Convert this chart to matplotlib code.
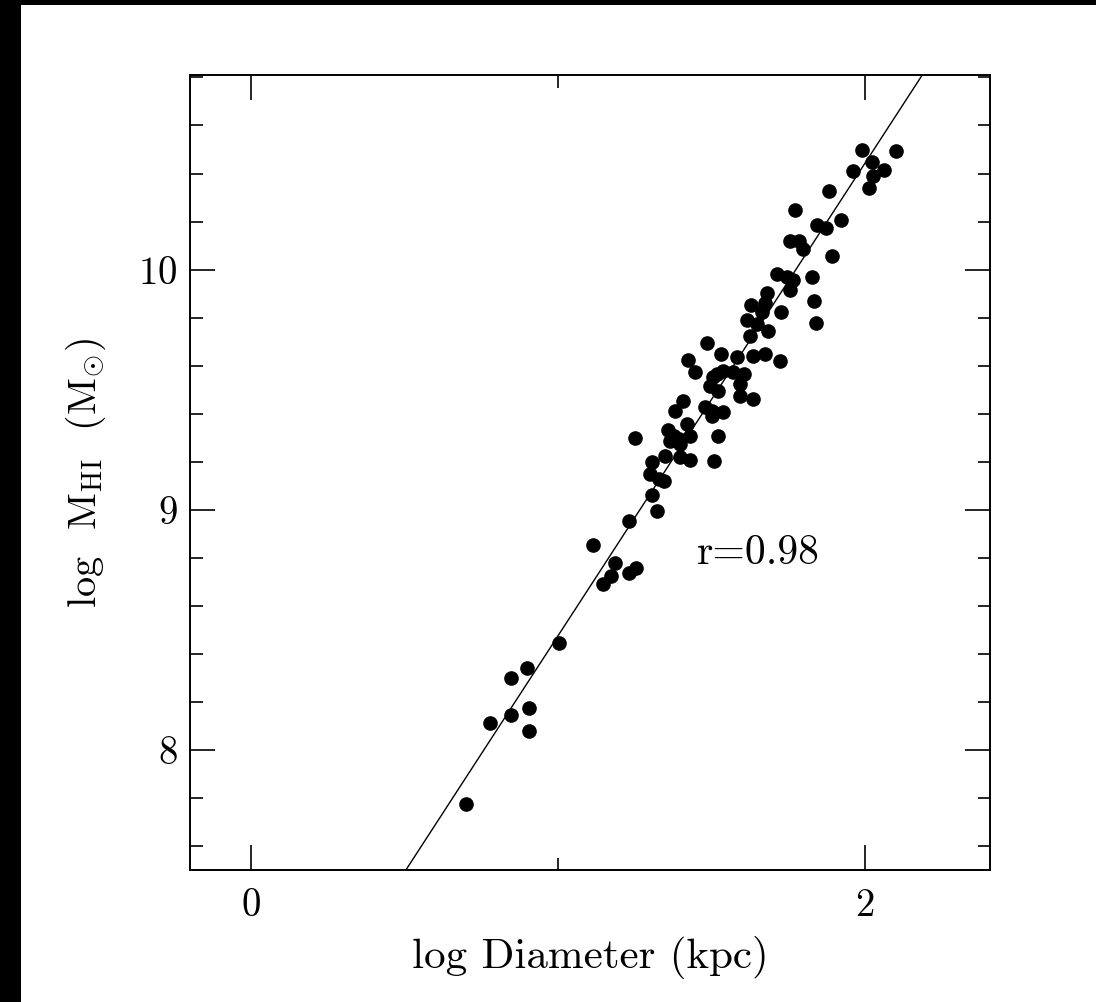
#!/usr/bin/env python3
"""HI mass vs HI diameter scatter with fitted relation."""

import matplotlib
matplotlib.use("Agg")
import matplotlib.pyplot as plt
from matplotlib.patches import Rectangle
from matplotlib.ticker import MultipleLocator
import numpy as np

# log D_HI (kpc) and log M_HI (Msun)
log_diam = [
    0.700, 0.779, 0.846, 0.846, 0.898, 0.906, 0.903, 1.001, 1.113, 1.186,
    1.172, 1.146, 1.232, 1.254, 1.232, 1.251, 1.305, 1.321, 1.305, 1.300,
    1.327, 1.343, 1.349, 1.397, 1.430, 1.506, 1.359, 1.376, 1.392, 1.365,
    1.397, 1.430, 1.522, 1.419, 1.381, 1.408, 1.479, 1.501, 1.538, 1.501,
    1.495, 1.522, 1.504, 1.593, 1.593, 1.636, 1.422, 1.446, 1.517, 1.538,
    1.571, 1.604, 1.486, 1.531, 1.584, 1.636, 1.674, 1.723, 1.615, 1.647,
    1.625, 1.683, 1.663, 1.629, 1.674, 1.680, 1.726, 1.840, 1.834, 1.756,
    1.712, 1.745, 1.766, 1.826, 1.756, 1.786, 1.799, 1.893, 1.772, 1.921,
    1.843, 1.872, 1.882, 1.989, 2.101, 2.024, 1.959, 2.060, 2.027, 2.011,
]
log_mass = [
    7.776, 8.114, 8.301, 8.146, 8.343, 8.176, 8.079, 8.447, 8.854, 8.778,
    8.725, 8.690, 8.735, 8.757, 8.954, 9.299, 9.060, 8.993, 9.197, 9.149,
    9.128, 9.118, 9.225, 9.218, 9.207, 9.204, 9.332, 9.308, 9.295, 9.288,
    9.274, 9.308, 9.308, 9.357, 9.410, 9.454, 9.429, 9.413, 9.405, 9.392,
    9.517, 9.496, 9.551, 9.524, 9.475, 9.461, 9.624, 9.572, 9.565, 9.579,
    9.572, 9.565, 9.693, 9.649, 9.638, 9.642, 9.649, 9.621, 9.790, 9.774,
    9.725, 9.746, 9.822, 9.853, 9.860, 9.903, 9.822, 9.778, 9.868, 9.913,
    9.982, 9.968, 9.957, 9.968, 10.117, 10.117, 10.086, 10.055, 10.250, 10.207,
    10.186, 10.172, 10.329, 10.496, 10.492, 10.450, 10.410, 10.413, 10.388, 10.339,
]

# fitted relation log M = FIT_A + FIT_B * log D
FIT_A = 6.51
FIT_B = 1.967
CORR_LABEL = "r=0.98"

plt.rcParams["font.family"] = ["cmr10", "DejaVu Serif"]
plt.rcParams["mathtext.fontset"] = "cm"
plt.rcParams["axes.formatter.use_mathtext"] = True

fig = plt.figure(figsize=(10.96, 10.02), dpi=100, facecolor="white")
# dark slide border visible on the left and top
fig.patches.append(Rectangle((0, 0), 21 / 1096, 1, transform=fig.transFigure,
                             facecolor="black", edgecolor="none", zorder=-1))
fig.patches.append(Rectangle((0, 1 - 5 / 1002), 1, 5 / 1002, transform=fig.transFigure,
                             facecolor="black", edgecolor="none", zorder=-1))

ax = fig.add_axes([0.1734, 0.1317, 0.7299, 0.7934])
ax.set_xlim(-0.2, 2.407)
ax.set_ylim(7.5, 10.81)

ax.plot(log_diam, log_mass, "o", color="black", markersize=9.5, zorder=3)

xs = np.array(ax.get_xlim())
ax.plot(xs, FIT_A + FIT_B * xs, color="black", linewidth=1.0, zorder=2)

ax.text(1.453, 8.82, CORR_LABEL, fontsize=30, ha="left", va="center")

ax.xaxis.set_major_locator(MultipleLocator(2))
ax.xaxis.set_minor_locator(MultipleLocator(1))
ax.yaxis.set_major_locator(MultipleLocator(1))
ax.yaxis.set_minor_locator(MultipleLocator(0.2))
ax.tick_params(which="both", direction="in", top=True, right=True, width=1.2,
               labelsize=28)
ax.tick_params(which="major", length=18)
ax.tick_params(which="minor", length=9)
ax.tick_params(axis="x", pad=13)
ax.tick_params(axis="y", pad=9)
for spine in ax.spines.values():
    spine.set_linewidth(1.4)

ax.set_xlabel("log Diameter (kpc)", fontsize=31, labelpad=9)
ax.set_ylabel(r"log  M$_{\rm HI}$  (M$_{\odot}$)", fontsize=29, labelpad=22)

fig.savefig("out.png", dpi=100)
